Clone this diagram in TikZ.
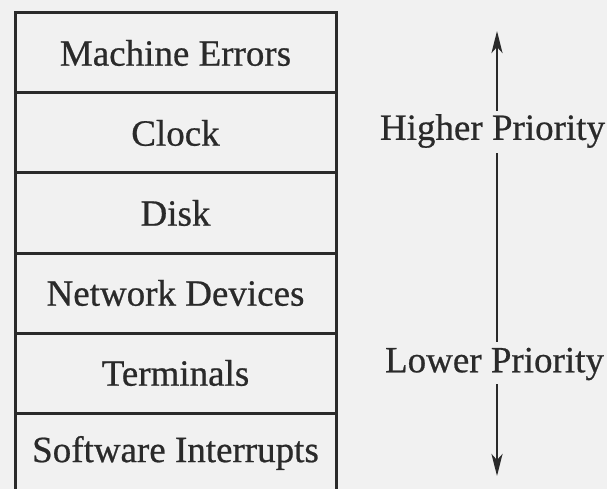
\documentclass[tikz,border=0pt]{standalone}
\usepackage{fontspec}
\setmainfont{Liberation Serif}[FakeBold=0.6]
\usetikzlibrary{arrows.meta}
\definecolor{bg}{HTML}{F1F1F1}
\definecolor{ink}{HTML}{2A2A2A}
\begin{document}
\begin{tikzpicture}[x=1pt,y=-1pt,
  levelbox/.style={draw=ink,line width=3pt,minimum width=321pt,minimum height=80pt,inner sep=0pt,
    text=ink,font=\fontsize{37}{44}\selectfont},
  prio/.style={text=ink,font=\fontsize{37}{44}\selectfont,inner sep=0pt,minimum height=40pt},
  conn/.style={draw=ink,line width=2.6pt},
  tip/.style={-{Stealth[length=22pt,width=11pt,inset=6pt]}}]
\fill[bg] (0,0) rectangle (607,489);
\useasboundingbox (0,0) rectangle (607,489);
\clip (0,0) rectangle (607,489);
\node[levelbox] (me) at (175.5,53) {Machine Errors};
\node[levelbox] (cl) at (175.5,133) {Clock};
\node[levelbox] (di) at (175.5,213) {Disk};
\node[levelbox] (nd) at (175.5,293) {Network Devices};
\node[levelbox] (te) at (175.5,373) {Terminals};
\node[levelbox] (si) at (175.5,453) {Software Interrupts};
\node[prio] (hi) at (492.5,131) {Higher Priority};
\node[prio] (lo) at (494.5,364) {Lower Priority};
\coordinate (top) at (497,31);
\coordinate (bot) at (497,476);
\draw[conn,tip] (hi.north -| top) -- (top);
\draw[conn] ([yshift=-2pt]hi.south -| top) -- ([yshift=2pt]lo.north -| top);
\draw[conn,tip] (lo.south -| bot) -- (bot);
\end{tikzpicture}
\end{document}
